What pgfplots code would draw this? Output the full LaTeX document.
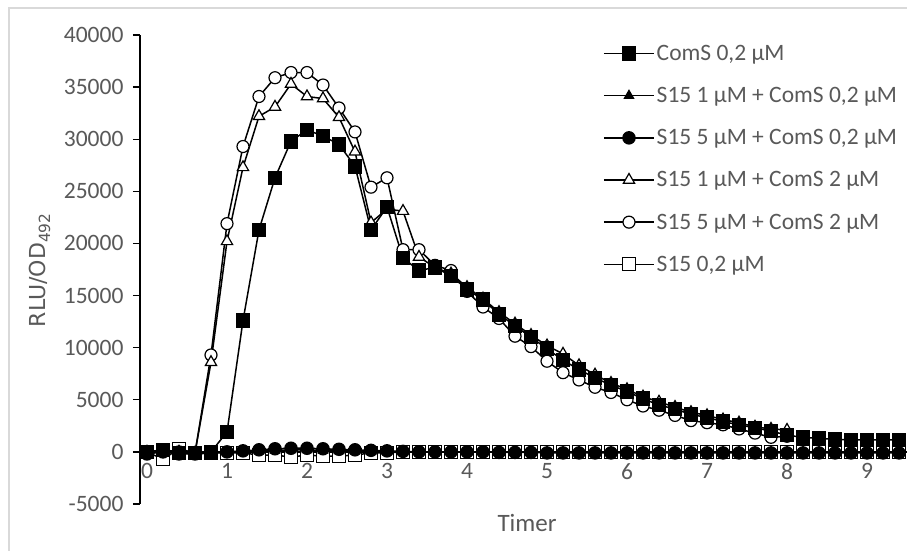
\documentclass[border=0pt]{standalone}
\usepackage{fontspec}
\setmainfont{Carlito}
\newfontfamily\ylabfont{DejaVu Sans}
\usepackage{pgfplots}
\pgfplotsset{compat=1.18}
\definecolor{txtgray}{HTML}{595959}
\definecolor{framegray}{HTML}{D9D9D9}

% x: time in hours, y: RLU/OD492
\pgfplotstableread{
x y
0 0
0.2 200
0.4 -100
0.6 -100
0.8 0
1.0 1900
1.2 12600
1.4 21300
1.6 26300
1.8 29800
2.0 30900
2.2 30300
2.4 29500
2.6 27400
2.8 21300
3.0 23500
3.2 18600
3.4 17400
3.6 17700
3.8 16900
4.0 15600
4.2 14600
4.4 13200
4.6 12100
4.8 11000
5.0 9900
5.2 8800
5.4 7900
5.6 7100
5.8 6400
6.0 5800
6.2 5100
6.4 4500
6.6 4100
6.8 3600
7.0 3300
7.2 2900
7.4 2600
7.6 2300
7.8 2000
8.0 1600
8.2 1400
8.4 1300
8.6 1200
8.8 1150
9.0 1150
9.2 1150
9.4 1150
}\comsA

\pgfplotstableread{
x y
0 -100
0.2 100
0.4 -100
0.6 -200
0.8 -100
1.0 0
1.2 50
1.4 100
1.6 150
1.8 200
2.0 200
2.2 150
2.4 100
2.6 100
2.8 50
3.0 50
3.2 0
3.4 0
3.6 0
3.8 0
4.0 0
4.2 0
4.4 0
4.6 0
4.8 0
5.0 0
5.2 0
5.4 0
5.6 0
5.8 0
6.0 0
6.2 0
6.4 0
6.6 0
6.8 0
7.0 0
7.2 0
7.4 0
7.6 0
7.8 0
8.0 0
8.2 0
8.4 0
8.6 0
8.8 0
9.0 0
9.2 0
9.4 0
}\sAcomsA

\pgfplotstableread{
x y
0 -200
0.2 0
0.4 -200
0.6 -200
0.8 -100
1.0 0
1.2 100
1.4 200
1.6 300
1.8 350
2.0 350
2.2 300
2.4 250
2.6 200
2.8 150
3.0 100
3.2 50
3.4 0
3.6 0
3.8 0
4.0 0
4.2 0
4.4 -50
4.6 -50
4.8 -50
5.0 -100
5.2 -100
5.4 -100
5.6 -100
5.8 -100
6.0 -100
6.2 -100
6.4 -100
6.6 -100
6.8 -100
7.0 -100
7.2 -100
7.4 -100
7.6 -100
7.8 -100
8.0 -100
8.2 -100
8.4 -100
8.6 -100
8.8 -100
9.0 -100
9.2 -100
9.4 -100
}\sBcomsA

\pgfplotstableread{
x y
0 0
0.2 100
0.4 0
0.6 -100
0.8 8600
1.0 20200
1.2 27300
1.4 32200
1.6 33100
1.8 35300
2.0 34100
2.2 33900
2.4 32100
2.6 28800
2.8 22000
3.0 23300
3.2 23100
3.4 18700
3.6 17700
3.8 17100
4.0 15800
4.2 14700
4.4 13400
4.6 12300
4.8 11200
5.0 10200
5.2 9400
5.4 8300
5.6 7400
5.8 6600
6.0 6000
6.2 5300
6.4 4800
6.6 4300
6.8 3800
7.0 3500
7.2 3100
7.4 2800
7.6 2400
7.8 2200
8.0 2100
}\sAcomsB

\pgfplotstableread{
x y
0 -100
0.2 200
0.4 0
0.6 -100
0.8 9300
1.0 21900
1.2 29300
1.4 34100
1.6 35900
1.8 36400
2.0 36400
2.2 35200
2.4 33000
2.6 30700
2.8 25400
3.0 26300
3.2 19400
3.4 19400
3.6 17900
3.8 17400
4.0 15400
4.2 13900
4.4 12800
4.6 11100
4.8 10100
5.0 8700
5.2 7600
5.4 6900
5.6 6200
5.8 5700
6.0 5000
6.2 4400
6.4 4000
6.6 3500
6.8 3000
7.0 2800
7.2 2600
7.4 2200
7.6 1800
7.8 1400
8.0 1500
}\sBcomsB

\pgfplotstableread{
x y
0 0
0.2 -700
0.4 300
0.6 -100
0.8 -100
1.0 -100
1.2 -100
1.4 -300
1.6 -300
1.8 -500
2.0 -300
2.2 -400
2.4 -400
2.6 -300
2.8 -100
3.0 -100
3.2 0
3.4 0
3.6 0
3.8 0
4.0 0
4.2 0
4.4 0
4.6 0
4.8 0
5.0 0
5.2 0
5.4 0
5.6 0
5.8 0
6.0 0
6.2 0
6.4 0
6.6 0
6.8 0
7.0 0
7.2 0
7.4 0
7.6 0
7.8 0
8.0 0
8.2 0
8.4 0
8.6 0
8.8 0
9.0 0
9.2 0
9.4 0
}\sAonly

\begin{document}
\begin{tikzpicture}[x=1pt,y=1pt]
\useasboundingbox (0,0) rectangle (907,550);
\draw[framegray, line width=2pt] (9,-2) -- (9,542) -- (909,542);
\begin{axis}[
  at={(140pt,46pt)}, anchor=south west,
  scale only axis, width=767pt, height=469pt,
  xmin=-0.0875, xmax=9.5, ymin=-5000, ymax=40000,
  clip=false,
  axis y line=left, axis x line=middle,
  axis line style={-, line width=1.3pt, black},
  ytick={-5000,0,5000,10000,15000,20000,25000,30000,35000,40000},
  xtick={0,1,2,3,4,5,6,7,8,9},
  scaled y ticks=false,
  tick align=outside,
  major tick length=7pt,
  ytick style={line width=1.3pt, black},
  xtick style={draw=none},
  /pgf/number format/assume math mode=true,
  /pgf/number format/1000 sep={},
  ticklabel style={font=\fontsize{23.5}{27}\selectfont, text=txtgray},
  yticklabel style={xshift=-6pt},
  xticklabel style={yshift=-1pt},
  xlabel={Timer},
  xlabel style={font=\fontsize{25}{29}\selectfont, text=txtgray,
    at={(axis description cs:0.5046,-0.0405)}, anchor=center},
  ylabel={RLU/OD\textsubscript{492}},
  ylabel style={font=\ylabfont\fontsize{22}{26}\selectfont, text=txtgray,
    at={(axis description cs:-0.1304,0.499)}, anchor=center, rotate=0},
  every axis plot/.append style={line width=1.5pt, black},
  legend cell align=left,
  reverse legend,
  legend image code/.code={\draw[mark repeat=2,mark phase=2,#1] plot coordinates {(0pt,0pt)(25pt,0pt)(50pt,0pt)};},
  legend style={at={(axis description cs:0.6037,0.9830)}, anchor=north west,
    draw=none, fill=none, font=\fontsize{23.5}{27}\selectfont, text=txtgray,
    row sep=21.4pt, inner sep=0pt, nodes={inner sep=2pt}},
]
\addplot[mark=square*, mark size=6.5pt, mark options={solid, fill=white, line width=1.2pt}] table {\sAonly};
\addlegendentry{S15 0,2 µM}
\addplot[mark=*, mark size=6pt, mark options={solid, fill=white, line width=1.2pt}] table {\sBcomsB};
\addlegendentry{S15 5 µM + ComS 2 µM}
\addplot[mark=triangle*, mark size=6.5pt, mark options={solid, fill=white, line width=1.2pt}] table {\sAcomsB};
\addlegendentry{S15 1 µM + ComS 2 µM}
\addplot[mark=*, mark size=6pt, mark options={solid, fill=black}] table {\sBcomsA};
\addlegendentry{S15 5 µM + ComS 0,2 µM}
\addplot[mark=triangle*, mark size=5pt, mark options={solid, fill=black}] table {\sAcomsA};
\addlegendentry{S15 1 µM + ComS 0,2 µM}
\addplot[mark=square*, mark size=6.5pt, mark options={solid, fill=black}] table {\comsA};
\addlegendentry{ComS 0,2 µM}
\end{axis}
\end{tikzpicture}
\end{document}
